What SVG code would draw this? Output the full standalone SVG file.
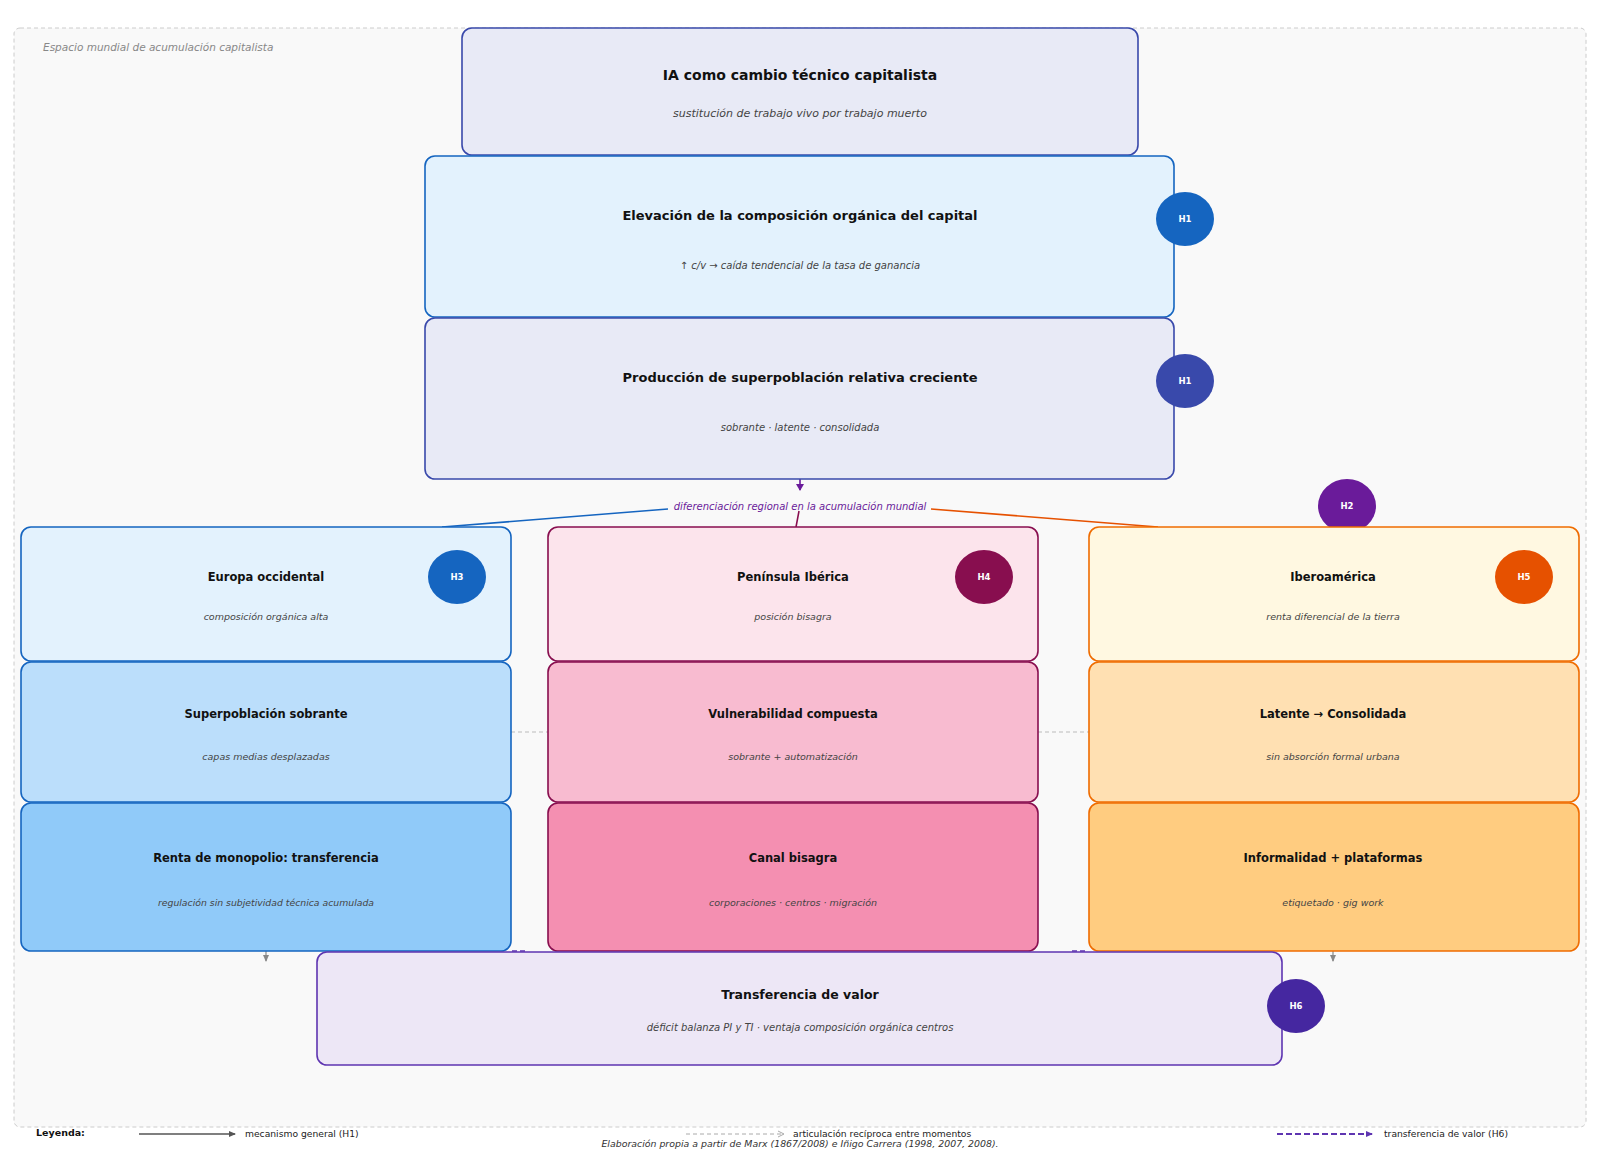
<svg xmlns="http://www.w3.org/2000/svg" width="1600" height="1161" viewBox="0 0 1600 1161">
<style>
text{font-family:"DejaVu Sans","Liberation Sans",sans-serif;}
.t{font-weight:bold;fill:#111;text-anchor:middle;}
.s{font-style:italic;fill:#444;text-anchor:middle;}
.box{stroke-width:1.6;}
.hc{font-weight:bold;fill:#fff;font-size:8.5px;text-anchor:middle;}
.lg{font-size:9.2px;fill:#222;}
</style>
<defs>
<marker id="ap" markerWidth="8" markerHeight="8" refX="6" refY="4" orient="auto" markerUnits="userSpaceOnUse"><path d="M0,0 L7,4 L0,8 z" fill="#6a1b9a"/></marker>
<marker id="ag" markerWidth="8" markerHeight="8" refX="6" refY="4" orient="auto" markerUnits="userSpaceOnUse"><path d="M0,1 L7,4 L0,7 z" fill="#888"/></marker>
<marker id="ad" markerWidth="8" markerHeight="8" refX="6" refY="4" orient="auto" markerUnits="userSpaceOnUse"><path d="M0,1 L7,4 L0,7 z" fill="#555"/></marker>
<marker id="av" markerWidth="8" markerHeight="8" refX="6" refY="4" orient="auto" markerUnits="userSpaceOnUse"><path d="M0,1 L7,4 L0,7 z" fill="#5e35b1"/></marker>
</defs>
<rect width="1600" height="1161" fill="#ffffff"/>
<g id="container">
<rect x="14" y="28" width="1572" height="1099" rx="6" fill="#f9f9f9" stroke="#cccccc" stroke-width="1" stroke-dasharray="4,3"/>
<text x="43" y="51" font-size="10.5px" font-style="italic" fill="#888">Espacio mundial de acumulación capitalista</text>
</g>
<g id="connectors">
<line x1="800" y1="479" x2="800" y2="490" stroke="#6a1b9a" stroke-width="1.6" marker-end="url(#ap)"/>
<line x1="668" y1="509" x2="442" y2="527" stroke="#1565c0" stroke-width="1.6"/>
<line x1="799" y1="511" x2="796" y2="527" stroke="#880e4f" stroke-width="1.6"/>
<line x1="931" y1="509" x2="1158" y2="527" stroke="#e65100" stroke-width="1.6"/>
<line x1="511" y1="732" x2="548" y2="732" stroke="#bbbbbb" stroke-width="1" stroke-dasharray="4,3"/>
<line x1="1038" y1="732" x2="1089" y2="732" stroke="#bbbbbb" stroke-width="1" stroke-dasharray="4,3"/>
<line x1="266" y1="951" x2="266" y2="961" stroke="#888" stroke-width="1.2" marker-end="url(#ag)"/>
<line x1="1333" y1="951" x2="1333" y2="961" stroke="#888" stroke-width="1.2" marker-end="url(#ag)"/>
<line x1="512" y1="951" x2="528" y2="951" stroke="#5e35b1" stroke-width="1.6" stroke-dasharray="5,3"/>
<line x1="1072" y1="951" x2="1088" y2="951" stroke="#5e35b1" stroke-width="1.6" stroke-dasharray="5,3"/>
<text x="800" y="510" font-size="10px" font-style="italic" fill="#6a1b9a" text-anchor="middle">diferenciación regional en la acumulación mundial</text>
</g>
<g id="n-ia">
<rect class="box" x="462" y="28" width="676" height="127" rx="10" fill="#e8eaf6" stroke="#3949ab"/>
<text class="t" x="800" y="80" font-size="14px">IA como cambio técnico capitalista</text>
<text class="s" x="800" y="117" font-size="11px">sustitución de trabajo vivo por trabajo muerto</text>
</g>
<g id="n-elev">
<rect class="box" x="425" y="156" width="749" height="161" rx="10" fill="#e3f2fd" stroke="#1565c0"/>
<text class="t" x="800" y="220" font-size="13px">Elevación de la composición orgánica del capital</text>
<text class="s" x="800" y="269" font-size="10px">↑ c/v → caída tendencial de la tasa de ganancia</text>
<ellipse cx="1185" cy="219" rx="29" ry="27" fill="#1565c0"/>
<text class="hc" x="1185" y="222">H1</text>
</g>
<g id="n-super">
<rect class="box" x="425" y="318" width="749" height="161" rx="10" fill="#e8eaf6" stroke="#3949ab"/>
<text class="t" x="800" y="382" font-size="13px">Producción de superpoblación relativa creciente</text>
<text class="s" x="800" y="431" font-size="10px">sobrante · latente · consolidada</text>
<ellipse cx="1185" cy="381" rx="29" ry="27" fill="#3949ab"/>
<text class="hc" x="1185" y="384">H1</text>
</g>
<g id="n-h2">
<ellipse cx="1347" cy="506" rx="29" ry="27" fill="#6a1b9a"/>
<text class="hc" x="1347" y="509">H2</text>
</g>
<g id="n-eu1">
<rect class="box" x="21" y="527" width="490" height="134" rx="10" fill="#e3f2fd" stroke="#1565c0"/>
<text class="t" x="266" y="581" font-size="11.5px">Europa occidental</text>
<text class="s" x="266" y="620" font-size="9.5px">composición orgánica alta</text>
<ellipse cx="457" cy="577" rx="29" ry="27" fill="#1565c0"/>
<text class="hc" x="457" y="580">H3</text>
</g>
<g id="n-eu2">
<rect class="box" x="21" y="662" width="490" height="140" rx="10" fill="#bbdefb" stroke="#1565c0"/>
<text class="t" x="266" y="718" font-size="11.5px">Superpoblación sobrante</text>
<text class="s" x="266" y="760" font-size="9.5px">capas medias desplazadas</text>
</g>
<g id="n-eu3">
<rect class="box" x="21" y="803" width="490" height="148" rx="10" fill="#90caf9" stroke="#1565c0"/>
<text class="t" x="266" y="862" font-size="11.5px">Renta de monopolio: transferencia</text>
<text class="s" x="266" y="906" font-size="9.3px">regulación sin subjetividad técnica acumulada</text>
</g>
<g id="n-ib1">
<rect class="box" x="548" y="527" width="490" height="134" rx="10" fill="#fce4ec" stroke="#880e4f"/>
<text class="t" x="793" y="581" font-size="11.5px">Península Ibérica</text>
<text class="s" x="793" y="620" font-size="9.5px">posición bisagra</text>
<ellipse cx="984" cy="577" rx="29" ry="27" fill="#880e4f"/>
<text class="hc" x="984" y="580">H4</text>
</g>
<g id="n-ib2">
<rect class="box" x="548" y="662" width="490" height="140" rx="10" fill="#f8bbd0" stroke="#880e4f"/>
<text class="t" x="793" y="718" font-size="11.5px">Vulnerabilidad compuesta</text>
<text class="s" x="793" y="760" font-size="9.5px">sobrante + automatización</text>
</g>
<g id="n-ib3">
<rect class="box" x="548" y="803" width="490" height="148" rx="10" fill="#f48fb1" stroke="#880e4f"/>
<text class="t" x="793" y="862" font-size="11.5px">Canal bisagra</text>
<text class="s" x="793" y="906" font-size="9.5px">corporaciones · centros · migración</text>
</g>
<g id="n-la1">
<rect class="box" x="1089" y="527" width="490" height="134" rx="10" fill="#fff8e1" stroke="#ef6c00"/>
<text class="t" x="1333" y="581" font-size="11.5px">Iberoamérica</text>
<text class="s" x="1333" y="620" font-size="9.5px">renta diferencial de la tierra</text>
<ellipse cx="1524" cy="577" rx="29" ry="27" fill="#e65100"/>
<text class="hc" x="1524" y="580">H5</text>
</g>
<g id="n-la2">
<rect class="box" x="1089" y="662" width="490" height="140" rx="10" fill="#ffe0b2" stroke="#ef6c00"/>
<text class="t" x="1333" y="718" font-size="11.5px">Latente → Consolidada</text>
<text class="s" x="1333" y="760" font-size="9.5px">sin absorción formal urbana</text>
</g>
<g id="n-la3">
<rect class="box" x="1089" y="803" width="490" height="148" rx="10" fill="#ffcc80" stroke="#ef6c00"/>
<text class="t" x="1333" y="862" font-size="11.5px">Informalidad + plataformas</text>
<text class="s" x="1333" y="906" font-size="9.5px">etiquetado · gig work</text>
</g>
<g id="n-trans">
<rect class="box" x="317" y="952" width="965" height="113" rx="10" fill="#ede7f6" stroke="#5e35b1"/>
<text class="t" x="800" y="999" font-size="12.5px">Transferencia de valor</text>
<text class="s" x="800" y="1031" font-size="10px">déficit balanza PI y TI · ventaja composición orgánica centros</text>
<ellipse cx="1296" cy="1006" rx="29" ry="27" fill="#4527a0"/>
<text class="hc" x="1296" y="1009">H6</text>
</g>
<g id="legend">
<text x="36" y="1136" font-size="9.5px" font-weight="bold" fill="#111">Leyenda:</text>
<line x1="139" y1="1134" x2="235" y2="1134" stroke="#555" stroke-width="1.6" marker-end="url(#ad)"/>
<text class="lg" x="245" y="1137">mecanismo general (H1)</text>
<line x1="686" y1="1134" x2="782" y2="1134" stroke="#aaa" stroke-width="1" stroke-dasharray="4,3"/>
<path d="M778,1131 L784,1134 L778,1137" fill="none" stroke="#aaa" stroke-width="1"/>
<text class="lg" x="793" y="1137" font-size="9px">articulación recíproca entre momentos</text>
<line x1="1277" y1="1134" x2="1372" y2="1134" stroke="#5e35b1" stroke-width="2" stroke-dasharray="6,3" marker-end="url(#av)"/>
<text class="lg" x="1384" y="1137">transferencia de valor (H6)</text>
<text x="800" y="1147" font-size="9.4px" font-style="italic" fill="#333" text-anchor="middle">Elaboración propia a partir de Marx (1867/2008) e Iñigo Carrera (1998, 2007, 2008).</text>
</g>
</svg>
